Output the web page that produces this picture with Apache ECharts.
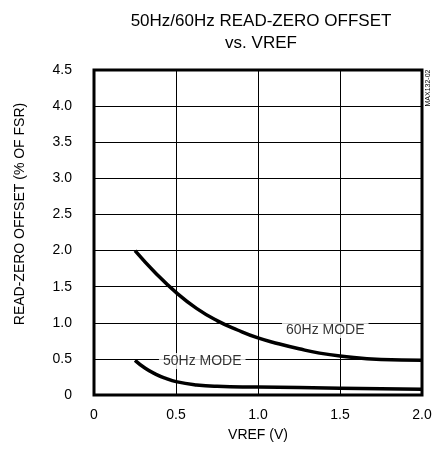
<!DOCTYPE html>
<html><head><meta charset="utf-8">
<script src="https://cdn.jsdelivr.net/npm/echarts@6/dist/echarts.min.js"></script>
<style>html,body{margin:0;padding:0;background:#fff}#c{width:435px;height:458px}</style>
</head><body><div id="c"></div>
<script>
const xTicks = [0, 0.5, 1.0, 1.5, 2.0];
const yTicks = [0, 0.5, 1.0, 1.5, 2.0, 2.5, 3.0, 3.5, 4.0, 4.5];
const vref60 = [0.25, 0.375, 0.5, 0.625, 0.75, 0.875, 1.0, 1.125, 1.25, 1.375, 1.5, 1.75, 2.0];
const offset60 = [2.0, 1.69, 1.42, 1.20, 1.03, 0.90, 0.79, 0.71, 0.64, 0.58, 0.54, 0.49, 0.48];
const vref50 = [0.25, 0.3125, 0.375, 0.4375, 0.5, 0.625, 0.75, 1.0, 1.5, 2.0];
const offset50 = [0.48, 0.37, 0.29, 0.23, 0.185, 0.14, 0.12, 0.11, 0.095, 0.08];
const labelNames = ['60Hz MODE', '50Hz MODE'];
const labelX = [1.41, 0.66];
const labelY = [0.90, 0.47];

const FONT = '"Liberation Sans", Arial, sans-serif';
const chart = echarts.init(document.getElementById('c'), null, {renderer: 'canvas'});
chart.setOption({
  animation: false,
  backgroundColor: '#fff',
  title: {
    text: '50Hz/60Hz READ-ZERO OFFSET\nvs. VREF',
    left: 256, top: 5, textAlign: 'center',
    textStyle: {fontFamily: FONT, fontSize: 17, fontWeight: 'normal', color: '#000', lineHeight: 22}
  },
  grid: {left: 94, right: 13, top: 70, bottom: 63, show: true, borderColor: '#000', borderWidth: 3, backgroundColor: 'transparent'},
  xAxis: {
    type: 'value', min: 0, max: 2, interval: 0.5,
    name: 'VREF (V)', nameLocation: 'middle', nameGap: 33,
    nameTextStyle: {fontFamily: FONT, fontSize: 14, color: '#000'},
    axisLine: {show: false}, axisTick: {show: false},
    splitLine: {show: true, lineStyle: {color: '#000', width: 1}},
    axisLabel: {margin: 13, fontFamily: FONT, fontSize: 14, color: '#000',
      formatter: v => { const i = xTicks.findIndex(t => Math.abs(t - v) < 1e-9); return i === 0 ? '0' : xTicks[i].toFixed(1); }}
  },
  yAxis: {
    type: 'value', min: 0, max: 4.5, interval: 0.5,
    axisLine: {show: false}, axisTick: {show: false},
    splitLine: {show: true, lineStyle: {color: '#000', width: 1}},
    axisLabel: {margin: 22, fontFamily: FONT, fontSize: 14, color: '#000',
      formatter: v => { const i = yTicks.findIndex(t => Math.abs(t - v) < 1e-9); return i === 0 ? '0' : yTicks[i].toFixed(1); }}
  },
  series: [
    {type: 'line', data: vref60.map((x, i) => [x, offset60[i]]), smooth: 0.5, showSymbol: false,
     lineStyle: {color: '#000', width: 3.5}, z: 3},
    {type: 'line', data: vref50.map((x, i) => [x, offset50[i]]), smooth: 0.5, showSymbol: false,
     lineStyle: {color: '#000', width: 3.5}, z: 3},
    {type: 'scatter', symbolSize: 0, z: 5,
     data: labelNames.map((n, i) => ({name: n, value: [labelX[i], labelY[i]]})),
     label: {show: true, position: 'inside', formatter: p => p.name, fontFamily: FONT, fontSize: 14, color: '#000',
       backgroundColor: '#fff', padding: [1, 4]}}
  ],
  graphic: [
    {type: 'text', x: 20, y: 214, rotation: Math.PI / 2,
     style: {text: 'READ-ZERO OFFSET (% OF FSR)', fontFamily: FONT, fontSize: 14, fill: '#000', align: 'center', verticalAlign: 'middle'}},
    {type: 'text', x: 428, y: 88, rotation: Math.PI / 2,
     style: {text: 'MAX132-02', fontFamily: FONT, fontSize: 7, fill: '#000', align: 'center', verticalAlign: 'middle'}}
  ]
});
</script></body></html>
